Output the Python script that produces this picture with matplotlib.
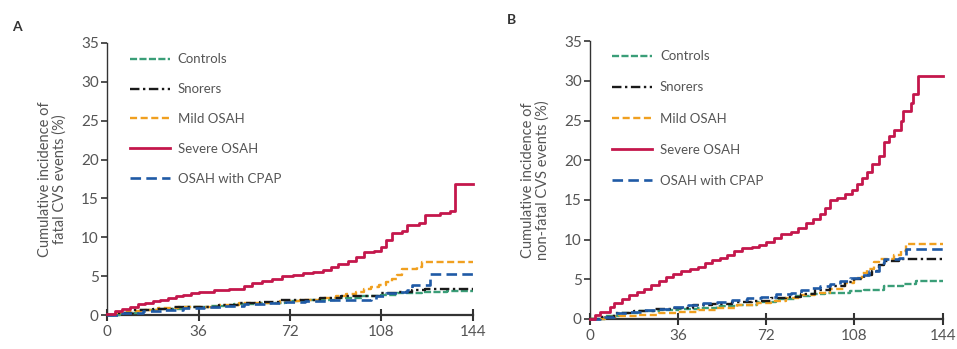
import matplotlib
matplotlib.use("Agg")
import matplotlib.pyplot as plt

series_names = ["Controls", "Snorers", "Mild OSAH", "Severe OSAH", "OSAH with CPAP"]
x_ticks = [0, 36, 72, 108, 144]
y_ticks = [0, 5, 10, 15, 20, 25, 30, 35]

# Panel A: fatal CVS events (time in months, cumulative incidence %)
a_controls_t = [0, 5, 12, 20, 30, 40, 50, 60, 70, 80, 90, 100, 108, 114, 124, 134, 144]
a_controls_y = [0, 0.3, 0.6, 0.8, 1.0, 1.2, 1.4, 1.6, 1.8, 2.0, 2.2, 2.4, 2.6, 2.8, 3.0, 3.1, 3.1]
a_snorers_t = [0, 4, 10, 18, 26, 36, 44, 52, 60, 68, 76, 84, 92, 100, 108, 114, 120, 125, 144]
a_snorers_y = [0, 0.3, 0.6, 0.8, 1.0, 1.1, 1.3, 1.5, 1.7, 1.9, 2.0, 2.2, 2.4, 2.5, 2.8, 3.0, 3.2, 3.4, 3.4]
a_mild_t = [0, 4, 8, 14, 20, 28, 36, 44, 52, 60, 68, 76, 84, 90, 94, 98, 101, 104, 107, 110, 112, 114, 116, 122, 124, 144]
a_mild_y = [0, 0.3, 0.5, 0.7, 0.9, 1.0, 1.1, 1.3, 1.5, 1.6, 1.8, 2.0, 2.2, 2.4, 2.7, 3.0, 3.3, 3.6, 3.9, 4.2, 4.6, 5.2, 5.9, 6.2, 6.8, 6.8]
a_severe_t = [0, 3, 6, 9, 12, 15, 18, 21, 24, 27, 30, 33, 36, 42, 48, 54, 57, 61, 65, 69, 73, 77, 81, 85, 88, 91, 95, 98, 101, 105, 108, 110, 112, 116, 118, 123, 125, 131, 135, 137, 144]
a_severe_y = [0.2, 0.5, 0.8, 1.1, 1.4, 1.6, 1.8, 2.0, 2.2, 2.4, 2.6, 2.8, 3.0, 3.2, 3.4, 3.7, 4.1, 4.4, 4.7, 5.0, 5.2, 5.4, 5.6, 5.8, 6.2, 6.6, 6.9, 7.5, 8.1, 8.2, 8.8, 9.6, 10.6, 10.8, 11.6, 11.8, 12.9, 13.1, 13.4, 16.8, 16.8]
a_cpap_t = [0, 6, 14, 22, 30, 38, 46, 54, 62, 70, 78, 86, 94, 104, 106, 110, 114, 118, 120, 127, 144]
a_cpap_y = [0, 0.3, 0.5, 0.7, 0.9, 1.0, 1.2, 1.4, 1.6, 1.7, 1.8, 2.0, 2.0, 2.1, 2.5, 2.8, 3.0, 3.2, 3.9, 5.3, 5.3]

# Panel B: non-fatal CVS events
b_controls_t = [0, 6, 12, 20, 28, 36, 44, 52, 60, 68, 76, 84, 90, 96, 106, 112, 120, 128, 133, 144]
b_controls_y = [0, 0.4, 0.8, 1.0, 1.1, 1.2, 1.4, 1.6, 1.8, 2.1, 2.5, 2.9, 3.2, 3.3, 3.5, 3.6, 4.2, 4.4, 4.8, 4.8]
b_snorers_t = [0, 5, 10, 18, 26, 34, 42, 50, 58, 66, 74, 80, 86, 92, 98, 104, 108, 112, 115, 118, 120, 126, 144]
b_snorers_y = [0, 0.3, 0.8, 1.0, 1.2, 1.4, 1.7, 1.9, 2.1, 2.3, 2.6, 2.8, 3.1, 3.6, 4.2, 4.7, 5.0, 5.6, 6.1, 6.8, 7.3, 7.5, 7.5]
b_mild_t = [0, 6, 12, 20, 28, 36, 44, 52, 60, 68, 74, 80, 86, 92, 98, 104, 108, 111, 113, 116, 118, 124, 127, 129, 144]
b_mild_y = [0, 0.2, 0.4, 0.5, 0.7, 0.9, 1.1, 1.4, 1.7, 2.0, 2.3, 2.7, 3.0, 3.3, 3.8, 4.5, 5.2, 5.8, 6.3, 7.2, 7.6, 8.0, 8.6, 9.4, 9.4]
b_severe_t = [0, 2, 4, 8, 10, 13, 16, 19, 22, 25, 28, 31, 34, 37, 41, 44, 47, 50, 53, 56, 59, 62, 66, 69, 72, 75, 78, 82, 85, 88, 91, 94, 96, 98, 101, 104, 107, 109, 111, 113, 115, 118, 120, 122, 124, 127, 128, 131, 132, 134, 144]
b_severe_y = [0, 0.5, 0.9, 1.5, 2.0, 2.5, 3.0, 3.4, 3.8, 4.3, 4.8, 5.3, 5.7, 6.0, 6.3, 6.6, 7.0, 7.4, 7.7, 8.1, 8.6, 9.0, 9.1, 9.3, 9.7, 10.2, 10.7, 11.0, 11.5, 12.1, 12.6, 13.2, 14.0, 15.0, 15.3, 15.8, 16.2, 17.0, 17.8, 18.5, 19.5, 20.5, 22.3, 23.0, 23.8, 25.0, 26.2, 27.2, 28.3, 30.6, 30.6]
b_cpap_t = [0, 4, 10, 16, 22, 28, 34, 40, 46, 52, 58, 64, 70, 76, 82, 86, 90, 94, 98, 102, 106, 110, 114, 118, 120, 126, 129, 144]
b_cpap_y = [0, 0.3, 0.7, 0.9, 1.1, 1.3, 1.5, 1.7, 2.0, 2.2, 2.4, 2.6, 2.8, 3.1, 3.3, 3.7, 3.9, 4.1, 4.4, 4.8, 5.2, 5.5, 6.0, 7.0, 7.5, 7.7, 8.8, 8.8]

colors = ["#3a9e78", "#1a1a1a", "#f0a020", "#c4174c", "#1f5aa6"]
styles = [(0, (3, 1)), (0, (4, 1.5, 1, 1.5)), (0, (3, 1.5)), "-", (0, (4, 2))]
widths = [1.7, 1.7, 1.7, 2.0, 1.9]
zorders = [3, 4, 3, 5, 4]

panel_a = [(a_controls_t, a_controls_y), (a_snorers_t, a_snorers_y), (a_mild_t, a_mild_y),
           (a_severe_t, a_severe_y), (a_cpap_t, a_cpap_y)]
panel_b = [(b_controls_t, b_controls_y), (b_snorers_t, b_snorers_y), (b_mild_t, b_mild_y),
           (b_severe_t, b_severe_y), (b_cpap_t, b_cpap_y)]

plt.rcParams['font.family'] = ['Lato', 'DejaVu Sans']
text_color = "#555555"

fig = plt.figure(figsize=(9.57, 3.49), dpi=100)
ax_a = fig.add_axes([0.112, 0.097, 0.382, 0.78])
ax_b = fig.add_axes([0.6165, 0.086, 0.3685, 0.796])

def style_axis(ax, ylabel):
    for s in ["top", "right"]:
        ax.spines[s].set_visible(False)
    ax.spines["left"].set_color("#333333")
    ax.spines["left"].set_linewidth(1.0)
    ax.spines["bottom"].set_color("#333333")
    ax.spines["bottom"].set_linewidth(1.6)
    ax.set_xlim(0, 144)
    ax.set_ylim(0, 35)
    ax.set_xticks(x_ticks)
    ax.set_yticks(y_ticks)
    ax.tick_params(axis="y", direction="out", length=4, width=1.2, colors="#333333",
                   labelcolor=text_color, labelsize=11, pad=2)
    ax.tick_params(axis="x", direction="inout", length=8, width=1.5, colors="#333333",
                   labelcolor=text_color, labelsize=11, pad=3)
    ax.set_ylabel(ylabel, color=text_color, fontsize=10.5, labelpad=10, linespacing=1.1)

def draw(ax, data, anchor_y, spacing):
    handles = []
    for (t, y), name, c, ls, lw, z in zip(data, series_names, colors, styles, widths, zorders):
        h, = ax.step(t, y, where="post", color=c, linestyle=ls, linewidth=lw, label=name,
                     zorder=z, clip_on=False)
        handles.append(h)
    leg = ax.legend(handles=handles, loc="upper left", bbox_to_anchor=(0.03, anchor_y),
                    frameon=False, fontsize=9.5, handlelength=3.0, handletextpad=0.6,
                    labelspacing=spacing, labelcolor=text_color)
    return leg

style_axis(ax_a, "Cumulative incidence of\nfatal CVS events (%)")
style_axis(ax_b, "Cumulative incidence of\nnon-fatal CVS events (%)")
draw(ax_a, panel_a, 1.005, 1.35)
draw(ax_b, panel_b, 1.01, 1.45)

fig.text(12 / 957, 1 - 27 / 349, "A", fontsize=10, color="#333333", fontweight="bold", va="center")
fig.text(507 / 957, 1 - 20 / 349, "B", fontsize=10, color="#333333", fontweight="bold", va="center")

fig.savefig("out.png", dpi=100)
